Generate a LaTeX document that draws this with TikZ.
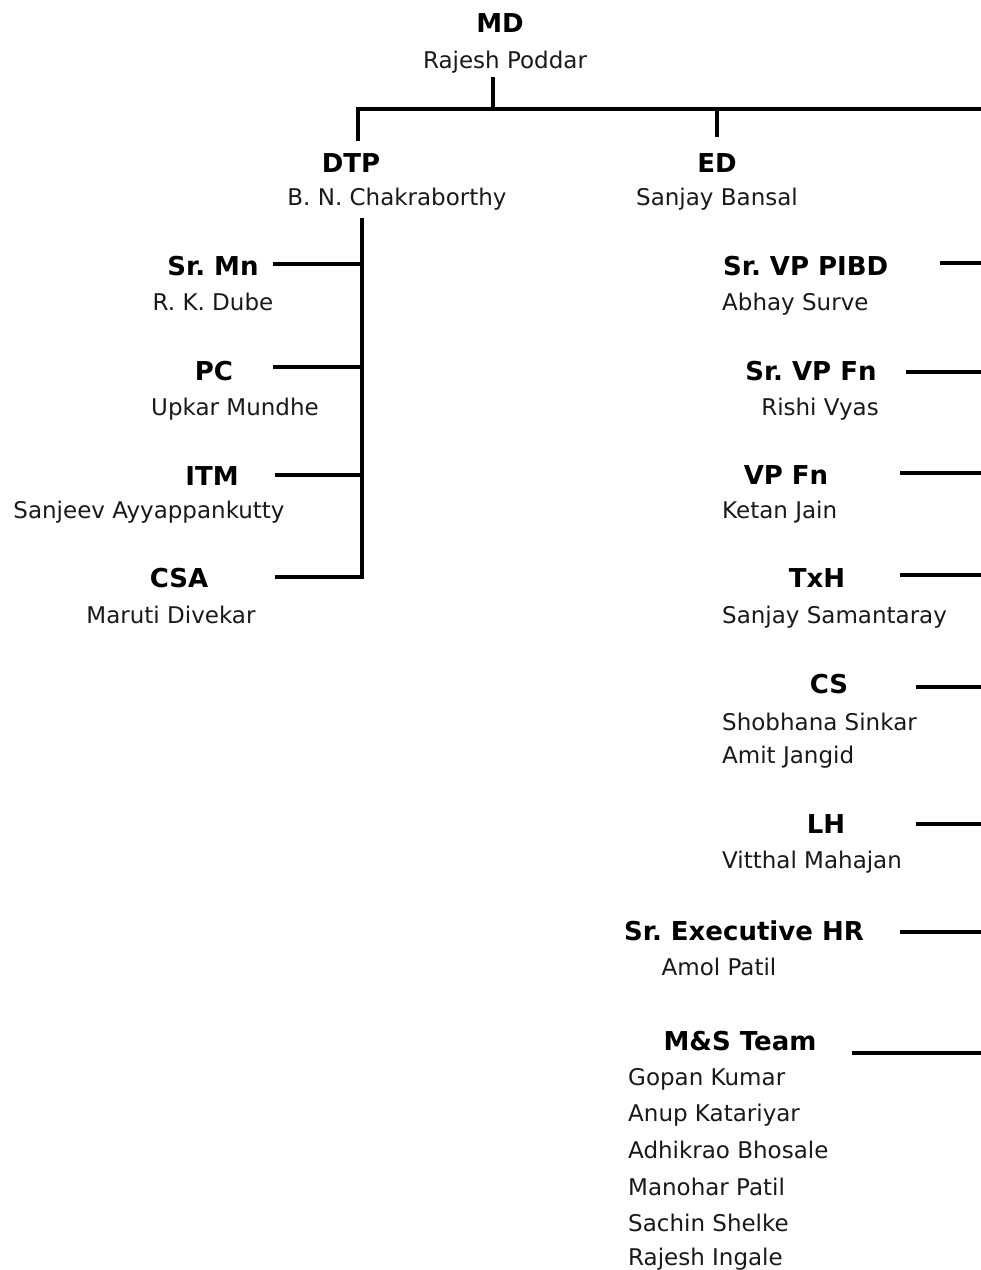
\documentclass[tikz,border=0pt]{standalone}
\usepackage{fontspec}
\setmainfont{DejaVu Sans}
\frenchspacing
\begin{document}
\begin{tikzpicture}[x=1pt,y=-1pt,
  title/.style={inner sep=0pt,anchor=base,font=\fontsize{26}{31}\selectfont\bfseries,text=black},
  person/.style={inner sep=0pt,anchor=base,font=\fontsize{23}{28}\selectfont,text=black!90},
  personL/.style={person,anchor=base west},
  titleL/.style={title,anchor=base west},
  link/.style={draw=black,line width=3.4pt}]
\useasboundingbox (0,0) rectangle (981,1270);

% top level
\node[title]  (md)   at (500,32) {MD};
\node[person] (mdN)  at (505,68) {Rajesh Poddar};
\node[title]  (dtp)  at (351,172) {DTP};
\node[person] (dtpN) at (397,205) {B. N. Chakraborthy};
\node[title]  (ed)   at (717,172) {ED};
\node[person] (edN)  at (717,205) {Sanjay Bansal};

% DTP branch
\node[title]  (srmn)  at (213,275) {Sr. Mn};
\node[person] (srmnN) at (213,310) {R. K. Dube};
\node[title]  (pc)    at (214,380) {PC};
\node[person] (pcN)   at (235,415) {Upkar Mundhe};
\node[title]  (itm)   at (212,485) {ITM};
\node[person] (itmN)  at (149,518) {Sanjeev Ayyappankutty};
\node[title]  (csa)   at (179,587) {CSA};
\node[person] (csaN)  at (171,623) {Maruti Divekar};

% right-hand branch
\node[titleL]  (pibd)  at (723,275) {Sr. VP PIBD};
\node[personL] (pibdN) at (722,310) {Abhay Surve};
\node[title]   (svfn)  at (811,380) {Sr. VP Fn};
\node[person]  (svfnN) at (820,415) {Rishi Vyas};
\node[title]   (vpfn)  at (786,484) {VP Fn};
\node[personL] (vpfnN) at (722,518) {Ketan Jain};
\node[title]   (txh)   at (817,587) {TxH};
\node[personL] (txhN)  at (722,623) {Sanjay Samantaray};
\node[title]   (cs)    at (829,693) {CS};
\node[personL] (csN1)  at (722,730) {Shobhana Sinkar};
\node[personL] (csN2)  at (722,763) {Amit Jangid};
\node[title]   (lh)    at (826,833) {LH};
\node[personL] (lhN)   at (722,868) {Vitthal Mahajan};
\node[title]   (hr)    at (744,940) {Sr. Executive HR};
\node[person]  (hrN)   at (719,975) {Amol Patil};
\node[title]   (ms)    at (740,1050) {M\&S Team};
\node[personL] (msN1)  at (628,1085) {Gopan Kumar};
\node[personL] (msN2)  at (628,1121) {Anup Katariyar};
\node[personL] (msN3)  at (628,1158) {Adhikrao Bhosale};
\node[personL] (msN4)  at (628,1195) {Manohar Patil};
\node[personL] (msN5)  at (628,1231) {Sachin Shelke};
\node[personL] (msN6)  at (628,1265) {Rajesh Ingale};

% connector end points
\coordinate (mdTail) at (493,77);
\coordinate (busM)   at (493,109);
\coordinate (busR)   at (981,109);
\coordinate (dtpTop) at (358,141);
\coordinate (edBus)  at (717,109);
\coordinate (edTop)  at (717,137);
\coordinate (spineTop) at (362,218);
\coordinate (srmnE) at (273,264);
\coordinate (pcE)   at (273,367);
\coordinate (itmE)  at (275,475);
\coordinate (csaE)  at (275,577);
\coordinate (pibdE) at (940,263);
\coordinate (svfnE) at (906,372);
\coordinate (vpfnE) at (900,473);
\coordinate (txhE)  at (900,575);
\coordinate (csE)   at (916,687);
\coordinate (lhE)   at (916,824);
\coordinate (hrE)   at (900,932);
\coordinate (msE)   at (852,1053);

% MD level bus
\draw[link] (mdTail) -- (busM);
\draw[link] (dtpTop) |- (busR);
\draw[link] (edTop) -- (edBus);

% DTP spine and its branches
\draw[link] (spineTop) |- (csaE);
\draw[link] (srmnE) -- (srmnE -| spineTop);
\draw[link] (pcE) -- (pcE -| spineTop);
\draw[link] (itmE) -- (itmE -| spineTop);

% right-hand branches
\foreach \p in {pibdE,svfnE,vpfnE,txhE,csE,lhE,hrE,msE}
  \draw[link] (\p) -- (\p -| busR);
\end{tikzpicture}
\end{document}
